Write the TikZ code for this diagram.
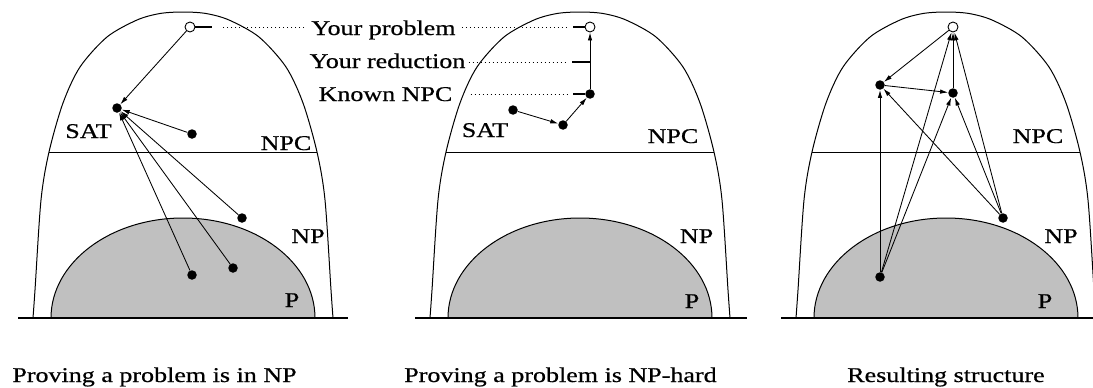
\documentclass[tikz,border=0pt]{standalone}
\usepackage{fontspec}
\setmainfont[FakeStretch=1.24,FakeBold=0.6]{Liberation Serif}
\usetikzlibrary{arrows.meta}
\definecolor{pgray}{RGB}{192,192,192}
\tikzset{
  lbl/.style={font=\fontsize{21}{25}\selectfont, inner sep=0pt, anchor=base},
  fdot/.style={circle, fill=black, inner sep=0pt, minimum size=9.5pt},
  odot/.style={circle, draw=black, fill=white, line width=0.9pt, inner sep=0pt, minimum size=10pt},
  arr/.style={line width=0.85pt, -{Latex[length=8pt,width=4.5pt]}},
  leader/.style={line width=1pt, dash pattern=on 1pt off 3pt},
  ticksty/.style={line width=2.2pt},
  outline/.style={line width=1pt},
}
\newcommand{\drawclassbase}[1]{%
  \fill[pgray] (51,318) arc[start angle=180,end angle=360,x radius=132,y radius=100] -- cycle;
  \draw[outline] (51,318) arc[start angle=180,end angle=360,x radius=132,y radius=100];
  \draw[outline] plot[smooth] coordinates {(33,318) (35,290) (41,200) (49,152) (63,103) (80,67) (107,37) (137,20) (160,13.5) (183,12) (206,13.5) (229,20) (259,37) (286,67) (303,103) (317,152) (325,200) (331,290) (333,318)};
  \draw[outline] (49,152) -- (317,152);
  \draw[line width=1.2pt] (18,318) -- (#1,318);
}
\begin{document}
\begin{tikzpicture}[x=1pt,y=-1pt]
\useasboundingbox (0,0) rectangle (1093,388);

% ---------- panel bases ----------
\drawclassbase{348}
\begin{scope}[shift={(397,0)}]\drawclassbase{350}\end{scope}
\begin{scope}[shift={(763,0)}]\drawclassbase{330}\end{scope}

% ---------- panel 1 ----------
\node[odot] (c1) at (190,27) {};
\node[fdot] (s1) at (117,108) {};
\node[fdot] (a1) at (192,134) {};
\node[fdot] (b1) at (242,218) {};
\node[fdot] (e1) at (233,268) {};
\node[fdot] (f1) at (192,275) {};
\draw[arr] (c1) -- (s1);
\draw[arr] (a1) -- (s1);
\draw[arr] (b1) -- (s1);
\draw[arr] (e1) -- (s1);
\draw[arr] (f1) -- (s1);

\node[lbl] (sat1) at (88.5,138) {SAT};
\node[lbl] (npc1) at (286,150) {NPC};
\node[lbl] (np1) at (308,243) {NP};
\node[lbl] (p1) at (292,307) {P};
\node[lbl] (cap1) at (154.5,382) {Proving a problem is in NP};

% ---------- middle labels ----------
\node[lbl] (lp) at (383.5,35) {Your problem};
\node[lbl] (lr) at (387.5,68) {Your reduction};
\node[lbl] (lk) at (385.5,101) {Known NPC};

% ---------- panel 2 ----------
\node[odot] (c2) at (590,27) {};
\node[fdot] (k2) at (590,94) {};
\node[fdot] (m2) at (563,125) {};
\node[fdot] (s2) at (513,110) {};
\draw[arr] (s2) -- (m2);
\draw[arr] (m2) -- (k2);
\draw[arr] (k2) -- (c2);

\node[lbl] (sat2) at (485,137) {SAT};
\node[lbl] (npc2) at (673,143) {NPC};
\node[lbl] (np2) at (696.5,243) {NP};
\node[lbl] (p2) at (692,308) {P};
\node[lbl] (cap2) at (560.5,382) {Proving a problem is NP-hard};

% leaders
\coordinate (tp1) at (212,27);
\draw[ticksty] (c1.east) -- (tp1);
\draw[leader] ([xshift=-7pt]lp.west |- tp1) -- ([xshift=10pt]tp1);
\coordinate (tp2) at (573,27);
\draw[leader] ([xshift=6pt]lp.east |- tp2) -- ([xshift=-5pt]tp2);
\draw[ticksty] (tp2) -- (c2.west);
\coordinate (tr2) at (572,62);
\draw[leader] ([xshift=3pt]lr.east |- tr2) -- ([xshift=-5pt]tr2);
\draw[ticksty] (tr2) -- (tr2 -| c2.center);
\coordinate (tk2) at (573,94);
\draw[leader] ([xshift=18pt]lk.east |- tk2) -- ([xshift=-5pt]tk2);
\draw[ticksty] (tk2) -- (k2.west);

% ---------- panel 3 ----------
\node[odot] (c3) at (953,27) {};
\node[fdot] (s3) at (880,85) {};
\node[fdot] (k3) at (953,93) {};
\node[fdot] (l3) at (880,277) {};
\node[fdot] (r3) at (1003,218) {};
\draw[arr] (c3) -- (s3);
\draw[arr] (s3) -- (k3);
\draw[arr] (k3) -- (c3);
\draw[arr] (l3) -- (s3);
\draw[arr] (l3) -- (k3);
\draw[arr] (l3) -- (c3);
\draw[arr] (r3) -- (s3);
\draw[arr] (r3) -- (k3);
\draw[arr] (r3) -- (c3);

\node[lbl] (npc3) at (1038,143) {NPC};
\node[lbl] (np3) at (1061,243) {NP};
\node[lbl] (p3) at (1045,308) {P};
\node[lbl] (cap3) at (946,382) {Resulting structure};
\end{tikzpicture}
\end{document}
